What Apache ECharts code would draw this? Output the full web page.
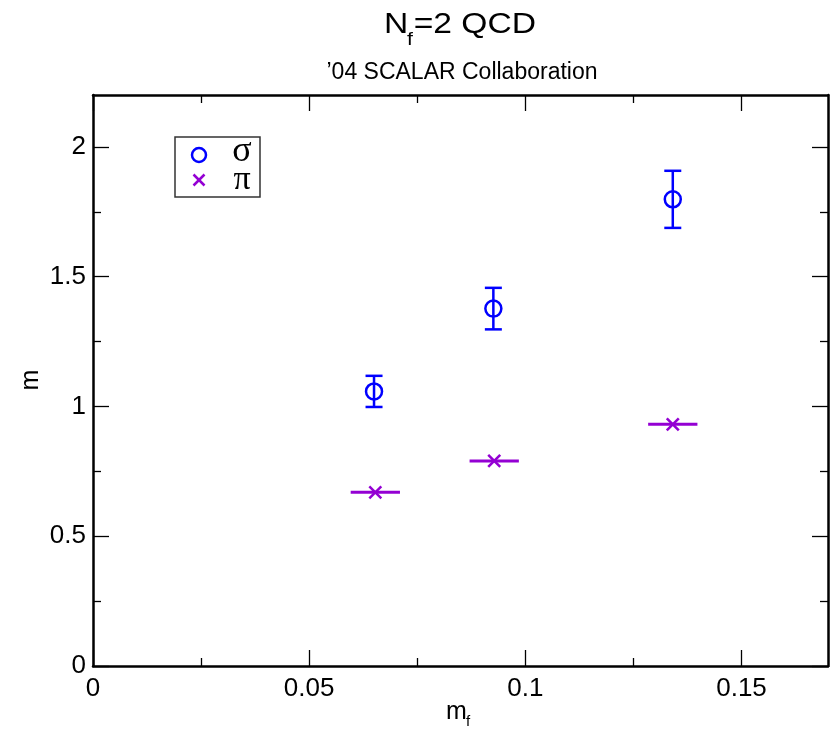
<!DOCTYPE html>
<html>
<head>
<meta charset="utf-8">
<script src="https://cdn.jsdelivr.net/npm/echarts@6/dist/echarts.min.js"></script>
<style>html,body{margin:0;padding:0;background:#fff}#c{width:837px;height:730px}</style>
</head>
<body>
<div id="c"></div>
<script>
// ---- data ----
const xMajorTicks = [0, 0.05, 0.1, 0.15];
const xMinorTicks = [0.025, 0.075, 0.125];
const yMajorTicks = [0, 0.5, 1, 1.5, 2];
const yMinorTicks = [0.25, 0.75, 1.25, 1.75];

const sigmaX = [0.065, 0.0926, 0.1341];
const sigmaY = [1.058, 1.377, 1.798];
const sigmaYErr = [0.06, 0.08, 0.11];

const piX = [0.0653, 0.0928, 0.1341];
const piY = [0.669, 0.790, 0.931];
const piXErr = [0.0057, 0.0057, 0.0057];

const FONT = "'Liberation Sans', Arial, Helvetica, sans-serif";
const SERIF = "'Liberation Serif', 'DejaVu Serif', serif";
const BLUE = '#0000ff';
const PURPLE = '#9400d3';

const chart = echarts.init(document.getElementById('c'), null, {renderer: 'canvas'});

function xAxisCfg(pos, major, showLine, showLabel) {
  return {
    type: 'value', gridIndex: 0, position: pos, min: 0, max: 0.17,
    axisLine: {show: showLine, onZero: false, lineStyle: {color: '#000', width: 2.5}},
    axisTick: {show: true, inside: true, length: major ? 16 : 8, customValues: major ? xMajorTicks : xMinorTicks,
      lineStyle: {color: '#000', width: 1.3}},
    axisLabel: {show: showLabel, customValues: xMajorTicks, color: '#000', fontSize: 26, fontFamily: FONT, margin: 10},
    splitLine: {show: false}
  };
}
function yAxisCfg(pos, major, showLine, showLabel) {
  return {
    type: 'value', gridIndex: 0, position: pos, min: 0, max: 2.2,
    axisLine: {show: showLine, onZero: false, lineStyle: {color: '#000', width: 2.5}},
    axisTick: {show: true, inside: true, length: major ? 16 : 8, customValues: major ? yMajorTicks : yMinorTicks,
      lineStyle: {color: '#000', width: 1.3}},
    axisLabel: {show: showLabel, customValues: yMajorTicks, color: '#000', fontSize: 26, fontFamily: FONT, margin: 7},
    splitLine: {show: false}
  };
}

const sigmaData = sigmaX.map((x, i) => [x, sigmaY[i], sigmaYErr[i]]);
const piData = piX.map((x, i) => [x, piY[i], piXErr[i]]);

function renderSigma(params, api) {
  const x = api.value(0), y = api.value(1), e = api.value(2);
  const c = api.coord([x, y]);
  const t = api.coord([x, y + e]);
  const b = api.coord([x, y - e]);
  const cap = 8.5, r = 8;
  const ls = {stroke: BLUE, lineWidth: 2.5, fill: null};
  return {type: 'group', children: [
    {type: 'line', shape: {x1: c[0], y1: t[1], x2: c[0], y2: b[1]}, style: ls},
    {type: 'line', shape: {x1: c[0] - cap, y1: t[1], x2: c[0] + cap, y2: t[1]}, style: ls},
    {type: 'line', shape: {x1: c[0] - cap, y1: b[1], x2: c[0] + cap, y2: b[1]}, style: ls},
    {type: 'circle', shape: {cx: c[0], cy: c[1], r: r}, style: {stroke: BLUE, lineWidth: 2.5, fill: null}}
  ]};
}
function renderPi(params, api) {
  const x = api.value(0), y = api.value(1), e = api.value(2);
  const c = api.coord([x, y]);
  const l = api.coord([x - e, y]);
  const rr = api.coord([x + e, y]);
  const s = 6;
  const ls = {stroke: PURPLE, lineWidth: 3, fill: null};
  return {type: 'group', children: [
    {type: 'line', shape: {x1: l[0], y1: c[1], x2: rr[0], y2: c[1]}, style: ls},
    {type: 'line', shape: {x1: c[0] - s, y1: c[1] - s, x2: c[0] + s, y2: c[1] + s}, style: {stroke: PURPLE, lineWidth: 2.5}},
    {type: 'line', shape: {x1: c[0] - s, y1: c[1] + s, x2: c[0] + s, y2: c[1] - s}, style: {stroke: PURPLE, lineWidth: 2.5}}
  ]};
}

const option = {
  backgroundColor: '#fff',
  animation: false,
  grid: {left: 93, right: 9, top: 95, bottom: 64, outerBoundsMode: 'none', containLabel: false},
  xAxis: [
    xAxisCfg('bottom', true, true, true),
    xAxisCfg('bottom', false, false, false),
    xAxisCfg('top', true, true, false),
    xAxisCfg('top', false, false, false)
  ],
  yAxis: [
    yAxisCfg('left', true, true, true),
    yAxisCfg('left', false, false, false),
    yAxisCfg('right', true, true, false),
    yAxisCfg('right', false, false, false)
  ],
  series: [
    {type: 'custom', name: 'σ', xAxisIndex: 0, yAxisIndex: 0, data: sigmaData, renderItem: renderSigma,
      encode: {x: 0, y: 1}, clip: false},
    {type: 'custom', name: 'π', xAxisIndex: 0, yAxisIndex: 0, data: piData, renderItem: renderPi,
      encode: {x: 0, y: 1}, clip: false}
  ],
  graphic: [
    // title
    {type: 'group', x: 384, y: 25, scaleX: 1.12, children: [
      {type: 'text', x: 0, y: 0, style: {text: 'N', font: '30px ' + FONT, fill: '#000', align: 'left', verticalAlign: 'middle'}},
      {type: 'text', x: 20.5, y: 15, style: {text: 'f', font: '19px ' + FONT, fill: '#000', align: 'left', verticalAlign: 'middle'}},
      {type: 'text', x: 26.5, y: 0, style: {text: '=2 QCD', font: '30px ' + FONT, fill: '#000', align: 'left', verticalAlign: 'middle'}}
    ]},
    // subtitle
    {type: 'text', x: 462, y: 73, style: {text: '\u201904 SCALAR Collaboration', font: '23px ' + FONT, fill: '#000', align: 'center', verticalAlign: 'middle'}},
    // x axis name
    {type: 'text', x: 446, y: 712, style: {text: 'm', font: '25px ' + FONT, fill: '#000', align: 'left', verticalAlign: 'middle'}},
    {type: 'text', x: 466, y: 722, style: {text: 'f', font: '15px ' + FONT, fill: '#000', align: 'left', verticalAlign: 'middle'}},
    // y axis name
    {type: 'text', x: 31, y: 380, rotation: Math.PI / 2, style: {text: 'm', font: '25px ' + FONT, fill: '#000', align: 'center', verticalAlign: 'middle'}},
    // legend
    {type: 'rect', shape: {x: 175, y: 137, width: 85, height: 60}, style: {stroke: '#333', lineWidth: 1.5, fill: '#fff'}, z: 10},
    {type: 'circle', shape: {cx: 199, cy: 155, r: 7}, style: {stroke: BLUE, lineWidth: 2.5, fill: null}, z: 11},
    {type: 'line', shape: {x1: 193.5, y1: 174.5, x2: 204.5, y2: 185.5}, style: {stroke: PURPLE, lineWidth: 2.5}, z: 11},
    {type: 'line', shape: {x1: 193.5, y1: 185.5, x2: 204.5, y2: 174.5}, style: {stroke: PURPLE, lineWidth: 2.5}, z: 11},
    {type: 'text', x: 242, y: 152, z: 11, style: {text: 'σ', font: '36px ' + SERIF, fill: '#000', align: 'center', verticalAlign: 'middle'}},
    {type: 'text', x: 242, y: 180, z: 11, style: {text: 'π', font: '34px ' + SERIF, fill: '#000', align: 'center', verticalAlign: 'middle'}}
  ]
};
chart.setOption(option);
</script>
</body>
</html>
